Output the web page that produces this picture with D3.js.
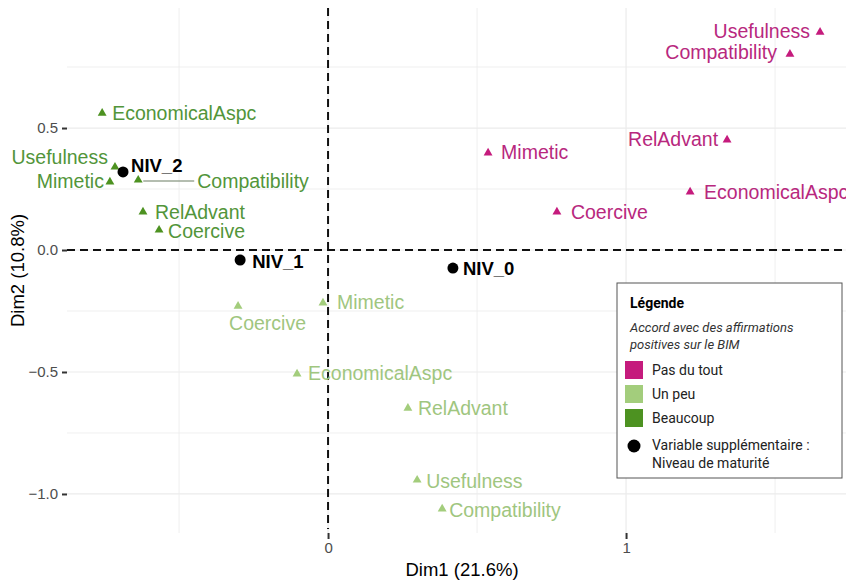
<!DOCTYPE html>
<html lang="fr">
<head>
<meta charset="UTF-8">
<title>ACM BIM</title>
<script src="https://d3js.org/d3.v7.min.js"></script>
<style>
  body { margin: 0; background: #fff; }
  svg { display: block; font-family: "Liberation Sans", Arial, sans-serif; }
</style>
</head>
<body>
<script>
// data
const statements = ["Usefulness", "Compatibility", "RelAdvant", "Mimetic", "EconomicalAspc", "Coercive"];
const levels = ["Pas du tout", "Un peu", "Beaucoup"];
const dim1PasDuTout = [1.651, 1.550, 1.339, 0.537, 1.215, 0.768];
const dim2PasDuTout = [0.893, 0.803, 0.451, 0.398, 0.238, 0.156];
const dim1UnPeu = [0.299, 0.383, 0.268, -0.017, -0.104, -0.302];
const dim2UnPeu = [-0.943, -1.061, -0.648, -0.217, -0.508, -0.230];
const dim1Beaucoup = [-0.715, -0.637, -0.621, -0.732, -0.758, -0.567];
const dim2Beaucoup = [0.340, 0.287, 0.156, 0.279, 0.561, 0.082];
const maturity = ["NIV_0", "NIV_1", "NIV_2"];
const dim1Maturity = [0.419, -0.295, -0.688];
const dim2Maturity = [-0.074, -0.041, 0.320];
const xTicks = [0, 1];
const yTicks = [-1, -0.5, 0, 0.5];
const colors = ["#c51b7d", "#a3cd7c", "#4d9221"];
const textColors = ["#b8287e", "#9fc67f", "#52953a"];

// label placement (repel-like offsets), kept apart from the data
const labelPos = {
  "Pas du tout|Usefulness": [-10, -1, "end"],
  "Pas du tout|Compatibility": [-13, -2, "end"],
  "Pas du tout|RelAdvant": [-9, -1, "end"],
  "Pas du tout|Mimetic": [13, -1, "start"],
  "Pas du tout|EconomicalAspc": [14, 0, "start"],
  "Pas du tout|Coercive": [14, 0, "start"],
  "Un peu|Usefulness": [9, 1, "start"],
  "Un peu|Compatibility": [7, 1, "start"],
  "Un peu|RelAdvant": [10, 0, "start"],
  "Un peu|Mimetic": [14, -1, "start"],
  "Un peu|EconomicalAspc": [11, -1, "start"],
  "Un peu|Coercive": [-9, 17, "start"],
  "Beaucoup|Usefulness": [-7, -10, "end"],
  "Beaucoup|Compatibility": [59, 1, "start", true],
  "Beaucoup|RelAdvant": [12, 0, "start"],
  "Beaucoup|Mimetic": [-6, -1, "end"],
  "Beaucoup|EconomicalAspc": [10, 0, "start"],
  "Beaucoup|Coercive": [9, 1, "start"],
  "NIV_0": [10, 0],
  "NIV_1": [12, 1],
  "NIV_2": [8, -6]
};

const width = 846, height = 580;
const panel = {left: 67, right: 857, top: 8, bottom: 533};

const x = d3.scaleLinear().domain([-0.876, 1.775]).range([panel.left, panel.right]);
const y = d3.scaleLinear().domain([-1.16, 0.992]).range([panel.bottom, panel.top]);

const svg = d3.select("body").append("svg")
  .attr("width", width)
  .attr("height", height);

// build rows
const points = [];
const series = [[dim1PasDuTout, dim2PasDuTout], [dim1UnPeu, dim2UnPeu], [dim1Beaucoup, dim2Beaucoup]];
levels.forEach(function(lvl, li) {
  statements.forEach(function(s, i) {
    points.push({level: lvl, li: li, name: s, d1: series[li][0][i], d2: series[li][1][i]});
  });
});
const sup = maturity.map((m, i) => ({name: m, d1: dim1Maturity[i], d2: dim2Maturity[i]}));

// grid
const grid = svg.append("g");
grid.selectAll(".gx")
  .data([-0.5, 0, 0.5, 1, 1.5])
  .join("line")
  .attr("x1", d => x(d)).attr("x2", d => x(d))
  .attr("y1", panel.top).attr("y2", panel.bottom)
  .style("stroke", "#ebebeb")
  .style("stroke-width", d => Number.isInteger(d) ? 1.2 : 0.8);
grid.selectAll(".gy")
  .data([-1, -0.75, -0.5, -0.25, 0, 0.25, 0.5, 0.75])
  .join("line")
  .attr("y1", d => y(d)).attr("y2", d => y(d))
  .attr("x1", panel.left).attr("x2", panel.right)
  .style("stroke", "#ebebeb")
  .style("stroke-width", d => (d * 2) % 1 === 0 ? 1.2 : 0.8);

// axes
const xAxis = svg.append("g")
  .attr("transform", `translate(0,${panel.bottom})`)
  .call(d3.axisBottom(x).tickValues(xTicks).tickFormat(d3.format("d")).tickSize(6).tickPadding(3));
const yAxis = svg.append("g")
  .attr("transform", `translate(${panel.left},0)`)
  .call(d3.axisLeft(y).tickValues(yTicks).tickFormat(d3.format(".1f")).tickSize(5).tickPadding(4));
[xAxis, yAxis].forEach(function(a) {
  a.select(".domain").remove();
  a.selectAll(".tick line").style("stroke", "#333").style("stroke-width", 2);
  a.selectAll(".tick text")
    .style("font-family", "Liberation Sans, Arial, sans-serif")
    .style("font-size", "15px")
    .style("fill", "#4d4d4d");
});

svg.append("text")
  .attr("x", (panel.left + panel.right) / 2)
  .attr("y", 576)
  .attr("text-anchor", "middle")
  .style("font-size", "18.5px")
  .text("Dim1 (21.6%)");
svg.append("text")
  .attr("transform", `translate(24,${(panel.top + panel.bottom) / 2}) rotate(-90)`)
  .attr("text-anchor", "middle")
  .style("font-size", "18.5px")
  .text("Dim2 (10.8%)");

// reference dashed lines
svg.append("line")
  .attr("x1", panel.left).attr("x2", panel.right)
  .attr("y1", y(0)).attr("y2", y(0))
  .style("stroke", "#111").style("stroke-width", 2).style("stroke-dasharray", "8,5");
svg.append("line")
  .attr("x1", x(0)).attr("x2", x(0))
  .attr("y1", panel.top).attr("y2", panel.bottom - 4)
  .style("stroke", "#111").style("stroke-width", 2).style("stroke-dasharray", "8,5");

// connector segments
svg.selectAll(".seg")
  .data(points.filter(d => labelPos[d.level + "|" + d.name][3]))
  .join("line")
  .attr("x1", d => x(d.d1) + 5)
  .attr("x2", d => x(d.d1) + labelPos[d.level + "|" + d.name][0] - 3)
  .attr("y1", d => y(d.d2) + labelPos[d.level + "|" + d.name][1])
  .attr("y2", d => y(d.d2) + labelPos[d.level + "|" + d.name][1])
  .style("stroke", "#6b7d63")
  .style("stroke-width", 1.2);

// triangles
const tri = d3.symbol().type(d3.symbolTriangle).size(34);
svg.selectAll(".pt")
  .data(points)
  .join("path")
  .attr("d", tri)
  .attr("transform", d => `translate(${x(d.d1)},${y(d.d2)})`)
  .style("fill", d => colors[d.li]);

svg.selectAll(".lab")
  .data(points)
  .join("text")
  .attr("x", d => x(d.d1) + labelPos[d.level + "|" + d.name][0])
  .attr("y", d => y(d.d2) + labelPos[d.level + "|" + d.name][1])
  .attr("text-anchor", d => labelPos[d.level + "|" + d.name][2])
  .attr("dominant-baseline", "central")
  .style("font-size", "19.5px")
  .style("fill", d => textColors[d.li])
  .text(d => d.name);

// supplementary variable
svg.selectAll(".sup")
  .data(sup)
  .join("circle")
  .attr("cx", d => x(d.d1))
  .attr("cy", d => y(d.d2))
  .attr("r", 5.5)
  .style("fill", "#000");
svg.selectAll(".suplab")
  .data(sup)
  .join("text")
  .attr("x", d => x(d.d1) + labelPos[d.name][0])
  .attr("y", d => y(d.d2) + labelPos[d.name][1])
  .attr("dominant-baseline", "central")
  .style("font-size", "18.5px")
  .style("font-weight", "bold")
  .style("fill", "#000")
  .text(d => d.name);

// legend
const lg = svg.append("g")
  .attr("transform", "translate(617,283)")
  .style("font-family", "Roboto, sans-serif");
lg.append("rect")
  .attr("width", 225).attr("height", 195)
  .style("fill", "#fff").style("stroke", "#555").style("stroke-width", 1);
lg.append("text")
  .attr("x", 13).attr("y", 25)
  .style("font-size", "14px").style("font-weight", "bold")
  .text("Légende");
lg.selectAll(".sub")
  .data(["Accord avec des affirmations", "positives sur le BIM"])
  .join("text")
  .attr("x", 13).attr("y", (d, i) => 49 + i * 17)
  .style("font-size", "13px").style("font-style", "italic").style("fill", "#333")
  .text(d => d);
lg.selectAll(".key")
  .data(levels)
  .join("rect")
  .attr("x", 8).attr("y", (d, i) => 78 + i * 24)
  .attr("width", 18).attr("height", 18)
  .style("fill", (d, i) => colors[i]);
lg.selectAll(".keylab")
  .data(levels)
  .join("text")
  .attr("x", 35).attr("y", (d, i) => 87 + i * 24)
  .attr("dominant-baseline", "central")
  .style("font-size", "14px").style("fill", "#222")
  .text(d => d);
lg.append("circle")
  .attr("cx", 17).attr("cy", 163).attr("r", 6.5)
  .style("fill", "#000");
lg.selectAll(".suptxt")
  .data(["Variable supplémentaire :", "Niveau de maturité"])
  .join("text")
  .attr("x", 35).attr("y", (d, i) => 162 + i * 18)
  .attr("dominant-baseline", "central")
  .style("font-size", "14px").style("fill", "#222")
  .text(d => d);
</script>
</body>
</html>
